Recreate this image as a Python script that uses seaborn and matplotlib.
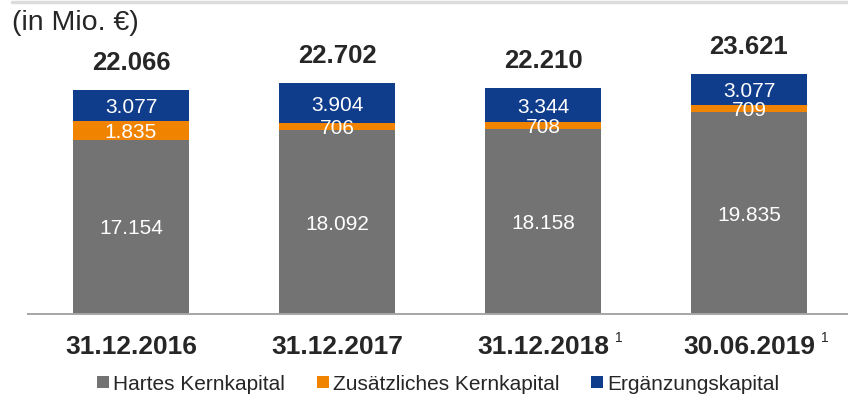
import matplotlib
matplotlib.use("Agg")
import matplotlib.pyplot as plt
from matplotlib.lines import Line2D
import numpy as np
import pandas as pd
import seaborn as sns

# Eigenmittel in Mio. €
dates = ["31.12.2016", "31.12.2017", "31.12.2018", "30.06.2019"]
footnotes = ["", "", "1", "1"]
hartes_kernkapital = [17154, 18092, 18158, 19835]
zusaetzliches_kernkapital = [1835, 706, 708, 709]
ergaenzungskapital = [3077, 3904, 3344, 3077]
series_names = ["Hartes Kernkapital", "Zusätzliches Kernkapital", "Ergänzungskapital"]
colors = ["#737374", "#f08300", "#103c8c"]

sns.set_style("white")
plt.rcParams["font.family"] = ["Liberation Sans", "DejaVu Sans"]


def fmt(v):
    return f"{v:,}".replace(",", ".")


df = pd.DataFrame({
    "date": dates,
    "hk": hartes_kernkapital,
    "zk": zusaetzliches_kernkapital,
    "ek": ergaenzungskapital,
})
df["lvl1"] = df["hk"]
df["lvl2"] = df["hk"] + df["zk"]
df["lvl3"] = df["lvl2"] + df["ek"]

fig = plt.figure(figsize=(8.48, 4.0), dpi=100)
ax = fig.add_axes([28 / 848, 86 / 400, 824 / 848, 304 / 400])

bw = 0.565
# stacked bars: draw cumulative totals from the top layer down
for col, c in zip(["lvl3", "lvl2", "lvl1"], colors[::-1]):
    sns.barplot(data=df, x="date", y=col, color=c, width=bw, ax=ax,
                saturation=1, linewidth=0, order=dates)

ax.set_xlim(-0.5, 3.5)
ax.set_ylim(0, 29900)

# segment values
for i in range(len(dates)):
    bounds = [0, df["lvl1"][i], df["lvl2"][i], df["lvl3"][i]]
    vals = [df["hk"][i], df["zk"][i], df["ek"][i]]
    for k in range(3):
        mid = (bounds[k] + bounds[k + 1]) / 2
        ax.text(i, mid, fmt(vals[k]), ha="center", va="center_baseline",
                color="white", fontsize=15)
    ax.annotate(fmt(int(df["lvl3"][i])), xy=(i, df["lvl3"][i]),
                xytext=(0, 19.5), textcoords="offset points",
                ha="center", va="center", fontsize=18.5, fontweight="bold")

# axis styling
for s in ["top", "left", "right"]:
    ax.spines[s].set_visible(False)
ax.spines["bottom"].set_color("#a6a6a6")
ax.spines["bottom"].set_linewidth(1.4)
ax.set_yticks([])
ax.set_xlabel("")
ax.set_ylabel("")
ax.set_xticks(range(len(dates)))
ax.set_xticklabels([])
ax.tick_params(axis="x", which="major", length=0)
ax.set_xticks(np.arange(-0.5, len(dates), 1.0), minor=True)
ax.tick_params(axis="x", which="minor", length=6.5, width=1.4,
               color="#a6a6a6", direction="out")

# category labels with footnote markers
for i, (d, fn) in enumerate(zip(dates, footnotes)):
    t = ax.annotate(d, xy=(i, 0), xycoords=("data", "axes fraction"),
                    xytext=(0, -24), textcoords="offset points",
                    ha="center", va="center", fontsize=19, fontweight="bold")
    if fn:
        ax.annotate(fn, xy=(1, 1), xycoords=t, xytext=(4, 3),
                    textcoords="offset points", ha="left", va="top",
                    fontsize=10)

fig.text(12 / 848, 1 - 23.5 / 400, "(in Mio. €)", fontsize=20.5,
         ha="left", va="center")
fig.add_artist(Line2D([12 / 848, 1], [1 - 1.5 / 400, 1 - 1.5 / 400],
                      transform=fig.transFigure, color="#dcdcdc", lw=2.5))

handles = [Line2D([], [], linestyle="none", marker="s", markersize=8,
                  markerfacecolor=c, markeredgewidth=0) for c in colors]
fig.legend(handles, series_names, loc="center",
           bbox_to_anchor=(438 / 848, 1 - 384 / 400), ncol=3, frameon=False,
           fontsize=15, handlelength=0.6, handletextpad=0.2,
           columnspacing=1.5, borderaxespad=0, borderpad=0)

fig.savefig("out.png", dpi=100)
